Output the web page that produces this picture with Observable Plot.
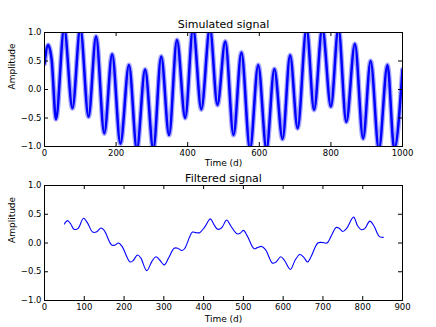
<!DOCTYPE html>
<html>
<head>
<meta charset="utf-8">
<script src="https://cdn.jsdelivr.net/npm/d3@7"></script>
<script src="https://cdn.jsdelivr.net/npm/@observablehq/plot@0.6"></script>
<style>
  html, body { margin: 0; padding: 0; background: #fff; }
  #chart { width: 436px; height: 327px; overflow: hidden; }
  #chart svg { display: block; }
</style>
</head>
<body>
<div id="chart"></div>
<script>
// Simulated signal: extremes of the noisy oscillation (time in days, amplitude)
const rawTime = [0, 10, 20, 32, 55, 78, 100, 123, 144, 167, 189, 212, 236, 258, 281, 304, 326, 348, 370, 393,
  415, 438, 462, 483, 505, 528, 550, 574, 597, 620, 642, 665, 686, 707, 732, 753, 776, 800, 821, 843,
  867, 890, 911, 934, 958, 977, 1000];
const rawAmp = [0.45, 0.78, 0.52, -0.52, 1.08, -0.33, 1.08, -0.48, 0.93, -0.77, 0.62, -0.95, 0.43, -1.05, 0.35, -1.05, 0.58, -0.8, 0.87, -0.5,
  1.08, -0.35, 1.08, -0.27, 0.84, -0.8, 0.65, -1.05, 0.43, -1.05, 0.36, -0.87, 0.6, -0.68, 1.08, -0.36, 1.08, -0.3, 1.08, -0.57,
  0.8, -0.86, 0.5, -1.05, 0.43, -1.05, 0.35];

// Filtered signal
const filtTime = [50, 58, 66, 74, 84, 98, 108, 121, 130, 142, 150, 168, 176, 186, 195, 215, 222, 234, 242, 257,
  270, 280, 290, 301, 312, 326, 335, 345, 352, 372, 380, 390, 403, 417, 426, 435, 445, 458, 468, 484,
  492, 500, 510, 527, 535, 546, 556, 573, 582, 594, 603, 618, 630, 642, 652, 661, 670, 687, 697, 710,
  722, 733, 740, 750, 760, 777, 787, 797, 805, 818, 828, 842, 852];
const filtAmp = [0.33, 0.39, 0.33, 0.24, 0.25, 0.43, 0.35, 0.19, 0.19, 0.26, 0.22, -0.03, -0.04, 0.0, -0.06, -0.33, -0.31, -0.21, -0.26, -0.48,
  -0.32, -0.24, -0.3, -0.38, -0.26, -0.09, -0.09, -0.13, -0.1, 0.19, 0.18, 0.18, 0.28, 0.42, 0.32, 0.24, 0.26, 0.40, 0.3, 0.16,
  0.17, 0.22, 0.12, -0.1, -0.08, -0.06, -0.12, -0.35, -0.33, -0.24, -0.3, -0.46, -0.3, -0.2, -0.25, -0.33, -0.24, 0.0, 0.01, 0.0,
  0.14, 0.27, 0.26, 0.2, 0.26, 0.45, 0.3, 0.23, 0.25, 0.38, 0.3, 0.11, 0.10];

const topXTicks = [0, 200, 400, 600, 800, 1000];
const botXTicks = [0, 100, 200, 300, 400, 500, 600, 700, 800, 900];
const yTicks = [-1, -0.5, 0, 0.5, 1];
const titles = ["Simulated signal", "Filtered signal"];
const xLabel = "Time (d)";
const yLabel = "Amplitude";

const rawData = rawTime.map((t, i) => ({t, v: rawAmp[i]}));
const filtData = filtTime.map((t, i) => ({t, v: filtAmp[i]}));

const W = 436, ML = 44, MR = 34;
const frameW = W - ML - MR;

function panel({height, marginTop, marginBottom, xDomain, xTicks, title, titleDy, labelDy, lines}) {
  const frameH = height - marginTop - marginBottom;
  return Plot.plot({
    width: W, height, marginLeft: ML, marginRight: MR, marginTop, marginBottom,
    style: {fontFamily: "DejaVu Sans, sans-serif", fontSize: "8.5px", color: "#000", background: "#fff"},
    x: {domain: xDomain, label: null},
    y: {domain: [-1, 1], label: null},
    marks: [
      ...lines,
      Plot.frame({stroke: "#000", strokeWidth: 1}),
      Plot.tickX(xTicks, {x: d => d, insetBottom: frameH - 4, stroke: "#000"}),
      Plot.tickX(xTicks, {x: d => d, insetTop: frameH - 4, stroke: "#000"}),
      Plot.tickY(yTicks, {y: d => d, insetRight: frameW - 4, stroke: "#000"}),
      Plot.tickY(yTicks, {y: d => d, insetLeft: frameW - 4, stroke: "#000"}),
      Plot.axisX({ticks: xTicks, tickSize: 0, tickPadding: 3, tickFormat: d3.format("d"), label: null, fontSize: 8.5}),
      Plot.axisY({ticks: yTicks, tickSize: 0, tickPadding: 3, tickFormat: d3.format(".1f"), label: null, fontSize: 8.5}),
      Plot.text([title], {frameAnchor: "top", lineAnchor: "middle", dy: titleDy, fontSize: 11, text: d => d}),
      Plot.text([xLabel], {frameAnchor: "bottom", lineAnchor: "middle", dy: labelDy, fontSize: 9, text: d => d}),
      Plot.text([yLabel], {frameAnchor: "left", dx: -32, rotate: -90, fontSize: 9, text: d => d})
    ]
  });
}

const topPanel = panel({
  height: 171, marginTop: 32, marginBottom: 25,
  xDomain: [0, 1000], xTicks: topXTicks, title: titles[0], titleDy: -8, labelDy: 17,
  lines: [
    Plot.line(rawData, {x: "t", y: "v", curve: "monotone-x", stroke: "#0000ff", strokeWidth: 5, strokeOpacity: 0.35, clip: true}),
    Plot.line(rawData, {x: "t", y: "v", curve: "monotone-x", stroke: "#0000ff", strokeWidth: 2.5, clip: true})
  ]
});
const bottomPanel = panel({
  height: 156, marginTop: 14, marginBottom: 27,
  xDomain: [0, 900], xTicks: botXTicks, title: titles[1], titleDy: -7, labelDy: 19,
  lines: [
    Plot.line(filtData, {x: "t", y: "v", curve: "catmull-rom", stroke: "#0000ff", strokeWidth: 1.1, clip: true})
  ]
});
document.getElementById("chart").append(topPanel, bottomPanel);
</script>
</body>
</html>
